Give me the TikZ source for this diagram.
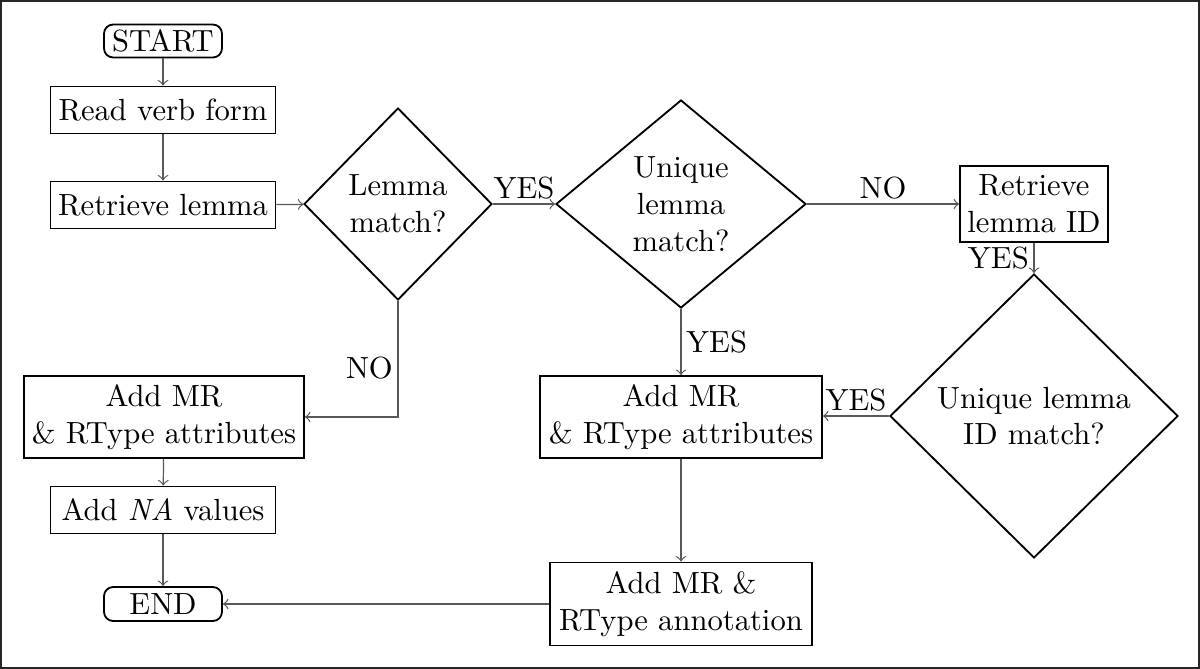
\documentclass[tikz,border=0pt]{standalone}
\usetikzlibrary{shapes.geometric}
\newcommand{\pxu}{0.32667pt}
\begin{document}
\begin{tikzpicture}[x=0.32667pt,y=-0.32667pt,
  box/.style={draw,semithick,rectangle,align=center,inner sep=1pt},
  term/.style={draw,semithick,rectangle,rounded corners=3pt,align=center,inner sep=1pt},
  dec/.style={draw,semithick,diamond,align=center,inner sep=0pt},
  conn/.style={->,draw=black!65,line width=0.4pt},
  lbl/.style={inner sep=1.5pt,text=black}]

\useasboundingbox (0,0) rectangle (1200,669);
\draw[line width=0.8pt,black!85] (1,1) rectangle (1199,668);

\node[term,minimum width=118*\pxu,minimum height=33*\pxu] (start) at (163,41) {START};
\node[box,minimum width=225*\pxu,minimum height=47*\pxu] (read) at (163,110) {Read verb form};
\node[box,minimum width=225*\pxu,minimum height=47*\pxu] (retr) at (163,205) {Retrieve lemma};
\node[dec,minimum width=188*\pxu,minimum height=192*\pxu] (lm) at (398,204) {Lemma\\match?};
\node[dec,minimum width=250*\pxu,minimum height=208*\pxu] (ulm) at (681,204) {Unique\\lemma\\match?};
\node[box,minimum width=148*\pxu,minimum height=76*\pxu] (rid) at (1034,204) {Retrieve\\lemma ID};
\node[dec,minimum width=288*\pxu,minimum height=284*\pxu] (uid) at (1034,416) {Unique lemma\\ID match?};
\node[box,minimum width=280*\pxu,minimum height=82*\pxu] (amr1) at (164,417) {Add MR\\\& RType attributes};
\node[box,minimum width=225*\pxu,minimum height=47*\pxu] (na) at (163,510) {Add \textit{NA} values};
\node[term,minimum width=118*\pxu,minimum height=34*\pxu] (end) at (163,604) {END};
\node[box,minimum width=282*\pxu,minimum height=82*\pxu] (amr2) at (681,417) {Add MR\\\& RType attributes};
\node[box,minimum width=262*\pxu,minimum height=83*\pxu] (ann) at (681,604) {Add MR \&\\RType annotation};

\draw[conn] (start) -- (read);
\draw[conn] (read) -- (retr);
\draw[conn] (retr) -- (lm);
\draw[conn] (lm) -- node[lbl,above] {YES} (ulm);
\draw[conn] (ulm) -- node[lbl,above] {NO} (rid);
\draw[conn] (lm.south) |- node[lbl,left,pos=0.29] {NO} (amr1.east);
\draw[conn] (ulm.south) -- node[lbl,right] {YES} (amr2);
\draw[conn] (rid) -- node[lbl,left] {YES} (uid);
\draw[conn] (uid.west) -- node[lbl,above] {YES} (amr2.east |- uid.west);
\draw[conn] (amr1) -- (na);
\draw[conn] (na) -- (end);
\draw[conn] (amr2) -- (ann);
\draw[conn] (ann) -- (end);
\end{tikzpicture}
\end{document}
